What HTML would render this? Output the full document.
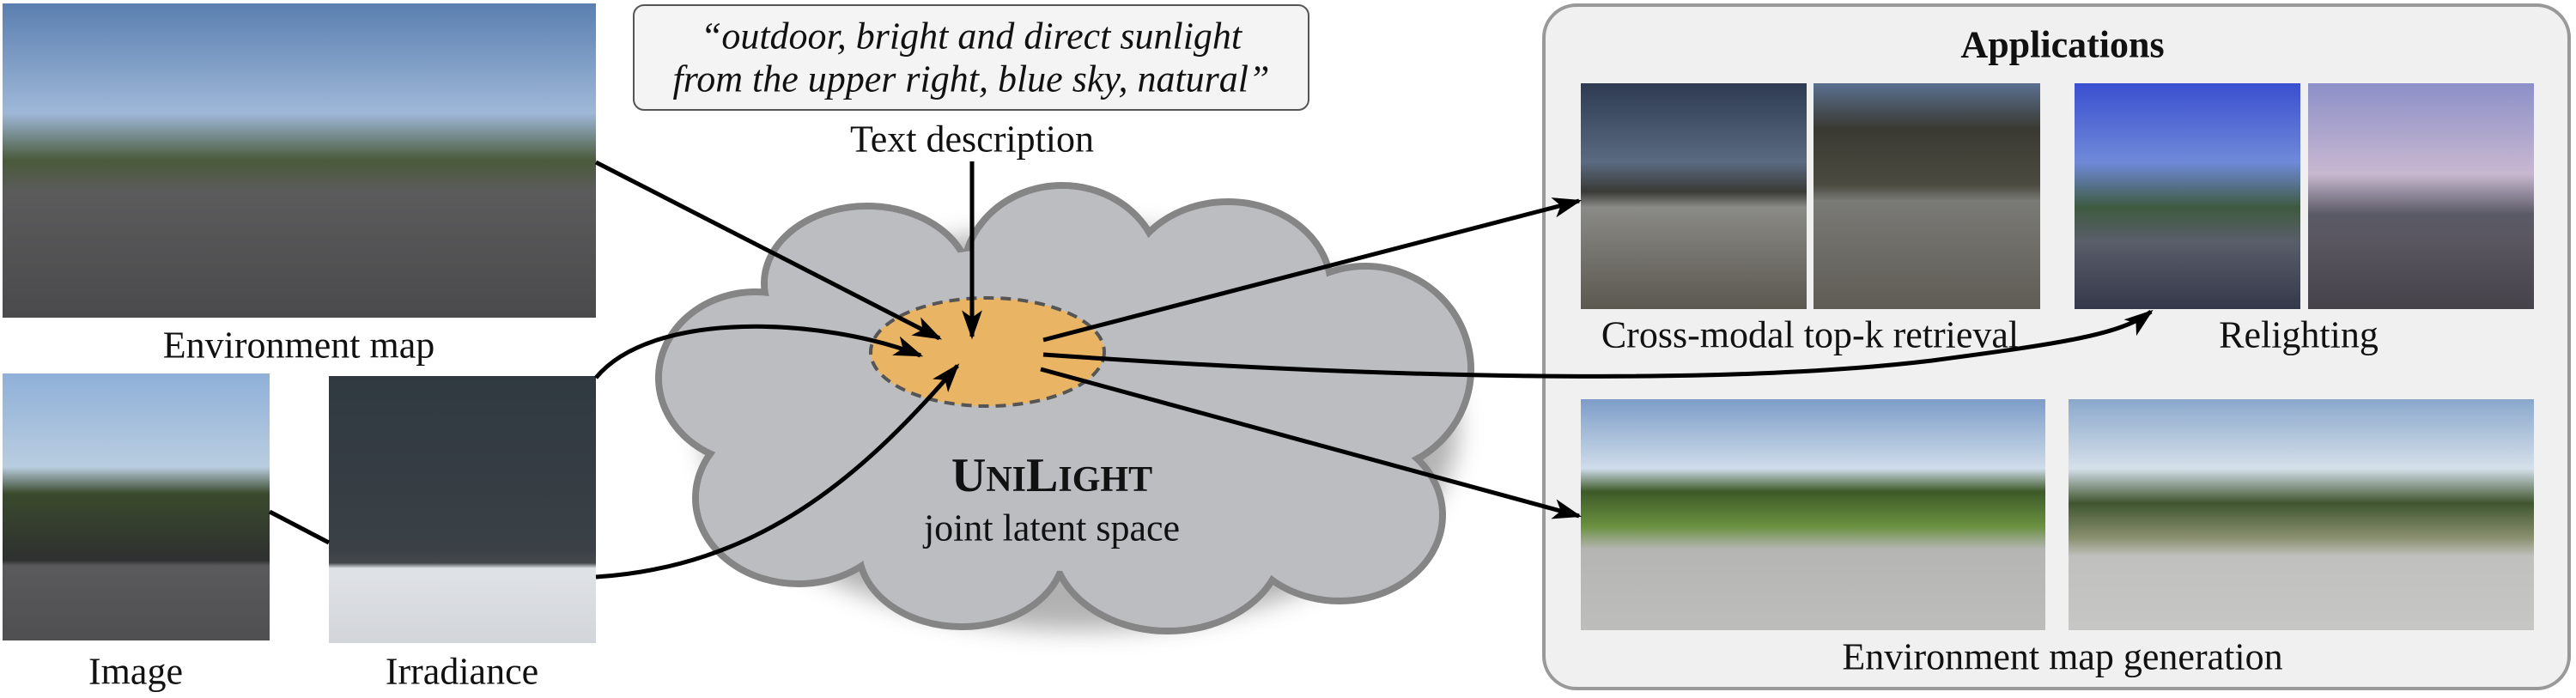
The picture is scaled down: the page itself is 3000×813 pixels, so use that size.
<!DOCTYPE html>
<html><head><meta charset="utf-8"><style>
html,body{margin:0;padding:0;background:#fff}
body{width:3000px;height:813px;position:relative;overflow:hidden;font-family:"Liberation Serif",serif;color:#111}
.lbl{position:absolute;font-size:44px;white-space:nowrap;transform:translate(-50%,-50%)}
</style></head><body>
<svg width="3000" height="813" style="position:absolute;left:0;top:0">
<defs>
<filter id="sh" x="-20%" y="-20%" width="140%" height="150%"><feGaussianBlur stdDeviation="14"/></filter>
<marker id="ah" viewBox="0 0 20 20" refX="18" refY="10" markerWidth="34" markerHeight="34" markerUnits="userSpaceOnUse" orient="auto"><path d="M0,3 L20,10 L0,17 L5,10 z" fill="#000"/></marker>
<linearGradient id="env" x1="0" y1="0" x2="0" y2="1"><stop offset="0" stop-color="#5a7fb0"/><stop offset="0.35" stop-color="#9fb8d8"/><stop offset="0.5" stop-color="#4a5a3a"/><stop offset="0.6" stop-color="#5b5b5c"/><stop offset="1" stop-color="#4a4a4c"/></linearGradient>
<linearGradient id="imgg" x1="0" y1="0" x2="0" y2="1"><stop offset="0" stop-color="#8fb0d8"/><stop offset="0.35" stop-color="#b9cde0"/><stop offset="0.45" stop-color="#3a4a2c"/><stop offset="0.7" stop-color="#2e3030"/><stop offset="0.72" stop-color="#5a5a5c"/><stop offset="1" stop-color="#4f4f51"/></linearGradient>
<linearGradient id="irr" x1="0" y1="0" x2="0" y2="1"><stop offset="0" stop-color="#2f3a40"/><stop offset="0.65" stop-color="#3a4046"/><stop offset="0.7" stop-color="#45484b"/><stop offset="0.72" stop-color="#dfe2e6"/><stop offset="1" stop-color="#d2d5da"/></linearGradient>
<linearGradient id="r1" x1="0" y1="0" x2="0" y2="1"><stop offset="0" stop-color="#2e3b52"/><stop offset="0.35" stop-color="#5a6a80"/><stop offset="0.48" stop-color="#3a3a36"/><stop offset="0.55" stop-color="#8a8a86"/><stop offset="1" stop-color="#5b5850"/></linearGradient>
<linearGradient id="r2" x1="0" y1="0" x2="0" y2="1"><stop offset="0" stop-color="#5a7090"/><stop offset="0.2" stop-color="#3a3a32"/><stop offset="0.45" stop-color="#4a4a40"/><stop offset="0.52" stop-color="#7a7a76"/><stop offset="1" stop-color="#5f5c55"/></linearGradient>
<linearGradient id="l1" x1="0" y1="0" x2="0" y2="1"><stop offset="0" stop-color="#3a4fd0"/><stop offset="0.35" stop-color="#6f8ad8"/><stop offset="0.55" stop-color="#3e5a40"/><stop offset="0.7" stop-color="#5a5e6a"/><stop offset="1" stop-color="#34384a"/></linearGradient>
<linearGradient id="l2" x1="0" y1="0" x2="0" y2="1"><stop offset="0" stop-color="#8c90c8"/><stop offset="0.4" stop-color="#c8b8d0"/><stop offset="0.58" stop-color="#5a5a66"/><stop offset="0.7" stop-color="#5a5660"/><stop offset="1" stop-color="#45424a"/></linearGradient>
<linearGradient id="g1" x1="0" y1="0" x2="0" y2="1"><stop offset="0" stop-color="#7c9dc8"/><stop offset="0.3" stop-color="#cfdcea"/><stop offset="0.4" stop-color="#3d5a28"/><stop offset="0.55" stop-color="#6a9040"/><stop offset="0.65" stop-color="#b5b5b3"/><stop offset="1" stop-color="#bdbdbb"/></linearGradient>
<linearGradient id="g2" x1="0" y1="0" x2="0" y2="1"><stop offset="0" stop-color="#8aa8cc"/><stop offset="0.3" stop-color="#d5e0ea"/><stop offset="0.45" stop-color="#3f5530"/><stop offset="0.6" stop-color="#8a9070"/><stop offset="0.68" stop-color="#c0c0be"/><stop offset="1" stop-color="#c6c6c4"/></linearGradient>
</defs>

<rect x="3" y="4" width="691" height="366" fill="url(#env)"/>
<rect x="3" y="435" width="311" height="311" fill="url(#imgg)"/>
<rect x="383" y="438" width="311" height="311" fill="url(#irr)"/>

<rect x="738" y="6" width="786" height="122" rx="12" fill="#f4f4f4" stroke="#555" stroke-width="2"/>

<g transform="translate(18,24)" filter="url(#sh)" opacity="0.5">
<ellipse cx="1240" cy="475" rx="440" ry="235" fill="#666"/>
</g>
<g fill="#bcbdc0" stroke="#858585" stroke-width="8">
<ellipse cx="1237" cy="320" rx="115" ry="104"/>
<ellipse cx="1430" cy="335" rx="120" ry="100"/>
<ellipse cx="1590" cy="430" rx="123" ry="120"/>
<ellipse cx="1560" cy="600" rx="120" ry="100"/>
<ellipse cx="1360" cy="630" rx="135" ry="105"/>
<ellipse cx="1120" cy="640" rx="120" ry="90"/>
<ellipse cx="930" cy="580" rx="120" ry="100"/>
<ellipse cx="880" cy="440" rx="113" ry="100"/>
<ellipse cx="1010" cy="330" rx="120" ry="90"/>
</g>
<g fill="#bcbdc0">
<ellipse cx="1237" cy="320" rx="111" ry="100"/>
<ellipse cx="1430" cy="335" rx="116" ry="96"/>
<ellipse cx="1590" cy="430" rx="119" ry="116"/>
<ellipse cx="1560" cy="600" rx="116" ry="96"/>
<ellipse cx="1360" cy="630" rx="131" ry="101"/>
<ellipse cx="1120" cy="640" rx="116" ry="86"/>
<ellipse cx="930" cy="580" rx="116" ry="96"/>
<ellipse cx="880" cy="440" rx="109" ry="96"/>
<ellipse cx="1010" cy="330" rx="116" ry="86"/>
<ellipse cx="1240" cy="475" rx="400" ry="190"/>
</g>
<ellipse cx="1150" cy="410" rx="136" ry="63" fill="#e9b463" stroke="#555" stroke-width="4" stroke-dasharray="12,8"/>

<rect x="1798" y="6" width="1194" height="796" rx="38" fill="#f0f0f0" stroke="#999" stroke-width="4"/>
<rect x="1841" y="97" width="263" height="263" fill="url(#r1)"/>
<rect x="2112" y="97" width="264" height="263" fill="url(#r2)"/>
<rect x="2416" y="97" width="263" height="263" fill="url(#l1)"/>
<rect x="2688" y="97" width="263" height="263" fill="url(#l2)"/>
<rect x="1841" y="465" width="541" height="269" fill="url(#g1)"/>
<rect x="2409" y="465" width="542" height="269" fill="url(#g2)"/>

<g stroke="#000" stroke-width="5" fill="none">
<line x1="694" y1="189" x2="1094" y2="394" marker-end="url(#ah)"/>
<line x1="1132" y1="188" x2="1132" y2="392" marker-end="url(#ah)"/>
<path d="M694,440 C760,360 960,370 1072,414" marker-end="url(#ah)"/>
<path d="M694,672 C880,660 1000,560 1115,426" marker-end="url(#ah)"/>
<line x1="314" y1="596" x2="383" y2="632"/>
<line x1="1215" y1="396" x2="1839" y2="234" marker-end="url(#ah)"/>
<path d="M1215,413 C1600,440 2000,450 2250,420 C2400,400 2470,390 2505,363" marker-end="url(#ah)"/>
<line x1="1212" y1="430" x2="1839" y2="601" marker-end="url(#ah)"/>
</g>
</svg>

<div class="lbl" style="left:348px;top:402px">Environment map</div>
<div class="lbl" style="left:158px;top:782px">Image</div>
<div class="lbl" style="left:538px;top:782px">Irradiance</div>
<div class="lbl" style="left:1131px;top:42px;font-style:italic">“outdoor, bright and direct sunlight</div>
<div class="lbl" style="left:1131px;top:92px;font-style:italic">from the upper right, blue sky, natural”</div>
<div class="lbl" style="left:1132px;top:162px">Text description</div>
<div class="lbl" style="left:1225px;top:554px;font-weight:bold;font-size:56px">U<span style="font-size:42px">NI</span>L<span style="font-size:42px">IGHT</span></div>
<div class="lbl" style="left:1225px;top:615px">joint latent space</div>
<div class="lbl" style="left:2402px;top:52px;font-weight:bold">Applications</div>
<div class="lbl" style="left:2108px;top:390px">Cross-modal top-k retrieval</div>
<div class="lbl" style="left:2677px;top:390px">Relighting</div>
<div class="lbl" style="left:2402px;top:765px">Environment map generation</div>
</body></html>
